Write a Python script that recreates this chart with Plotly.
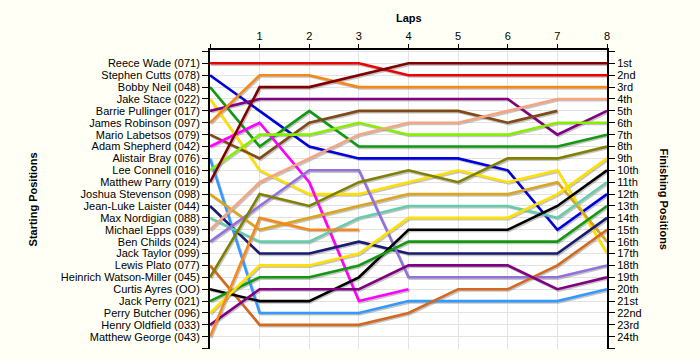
import plotly.graph_objects as go

laps = [0, 1, 2, 3, 4, 5, 6, 7, 8]
lap_labels = ["", "1", "2", "3", "4", "5", "6", "7", "8"]

drivers = [
    "Reece Wade (071)", "Stephen Cutts (078)", "Bobby Neil (048)", "Jake Stace (022)",
    "Barrie Pullinger (017)", "James Robinson (097)", "Mario Labetsos (079)",
    "Adam Shepherd (042)", "Alistair Bray (076)", "Lee Connell (016)",
    "Matthew Parry (019)", "Joshua Stevenson (098)", "Jean-Luke Laister (044)",
    "Max Nordigian (088)", "Michael Epps (039)", "Ben Childs (024)",
    "Jack Taylor (099)", "Lewis Plato (077)", "Heinrich Watson-Miller (045)",
    "Curtis Ayres (OO)", "Jack Perry (021)", "Perry Butcher (096)",
    "Henry Oldfield (033)", "Matthew George (043)",
]

finish_labels = ["1st", "2nd", "3rd", "4th", "5th", "6th", "7th", "8th", "9th", "10th",
                 "11th", "12th", "13th", "14th", "15th", "16th", "17th", "18th", "19th",
                 "20th", "21st", "22nd", "23rd", "24th"]

# position of each driver after each lap (None = not running)
p01 = [1, 1, 1, 1, 2, 2, 2, 2, 2]
p02 = [2, 5, 8, 9, 9, 9, 10, 15, 12]
p03 = [3, 8, 5, 8, 8, 8, 8, 8, 7]
p04 = [4, 10, 12, 12, 11, 10, 11, 10, 17]
p05 = [5, 4, 4, 4, 4, 4, 4, 7, 5]
p06 = [6, 2, 2, 3, 3, 3, 3, 3, 3]
p07 = [7, 9, 6, 5, 5, 5, 6, 5, None]
p08 = [8, 6, 11, 21, 20, None, None, None, None]
p09 = [9, 22, 22, 22, 21, 21, 21, 21, 20]
p10 = [10, 7, 7, 6, 7, 7, 7, 6, 6]
p11 = [11, 3, 3, 2, 1, 1, 1, 1, 1]
p12 = [12, 15, 14, 13, 12, 12, 12, 11, 16]
p13 = [13, 17, 17, 16, 17, 17, 17, 17, 14]
p14 = [14, 16, 16, 14, 13, 13, 13, 14, 11]
p15 = [15, 11, 9, 7, 6, 6, 5, 4, 4]
p16 = [16, 13, 10, 10, 19, 19, 19, 19, 18]
p17 = [None, None, None, None, None, None, None, None, None]
p18 = [18, 23, 23, 23, 22, 20, 20, 18, 15]
p19 = [19, 12, 13, 11, 10, 11, 9, 9, 8]
p20 = [20, 21, 21, 19, 15, 15, 15, 13, 10]
p21 = [21, 19, 19, 18, 16, 16, 16, 16, 13]
p22 = [22, 18, 18, 17, 14, 14, 14, 12, 9]
p23 = [23, 20, 20, 20, 18, 18, 18, 20, 19]
p24 = [24, 14, 15, 15, None, None, None, None, None]

series = [p01, p02, p03, p04, p05, p06, p07, p08, p09, p10, p11, p12,
          p13, p14, p15, p16, p17, p18, p19, p20, p21, p22, p23, p24]

colors = ["#EE0000", "#0000DD", "#129912", "#FFE000", "#800080", "#F5891A",
          "#7F4A17", "#FF00FF", "#3399FF", "#88EE00", "#800000", "#DAA520",
          "#1B1B70", "#66CDAA", "#F4A582", "#9370DB", "#888888", "#D2691E",
          "#808000", "#000000", "#129912", "#FFE000", "#800080", "#F5891A"]

fig = go.Figure()

# shadows
for ys in series:
    sx = [x + 0.025 for x in laps]
    sy = [None if v is None else v + 0.11 for v in ys]
    fig.add_trace(go.Scatter(x=sx, y=sy, mode="lines", showlegend=False,
                             hoverinfo="skip", connectgaps=False,
                             line=dict(color="rgba(110,110,110,0.4)", width=2.6)))
# lines
for name, ys, c in zip(drivers, series, colors):
    fig.add_trace(go.Scatter(x=laps, y=ys, mode="lines", name=name, showlegend=False,
                             connectgaps=False, line=dict(color=c, width=2.6)))

# dummy trace for right axis
fig.add_trace(go.Scatter(x=[None], y=[None], yaxis="y2", showlegend=False, hoverinfo="skip"))

n = len(drivers)
tv = list(range(0, n + 2))
left_text = [""] + drivers + [""]
right_text = [""] + finish_labels + [""]

yr = [25.03, -0.12]
font = dict(family="Liberation Sans, Arial, sans-serif", size=11, color="#000000")

fig.update_layout(
    width=700, height=360,
    margin=dict(l=210, r=93, t=50, b=11),
    paper_bgcolor="#FFFFF5", plot_bgcolor="#FFFFFF",
    font=font,
    showlegend=False,
    xaxis=dict(side="top", range=[0, 8], tickvals=laps, ticktext=lap_labels,
               ticks="outside", ticklen=4, tickcolor="#000", showgrid=True,
               gridcolor="#E3E3E3", gridwidth=1, showline=True, linecolor="#000",
               linewidth=2, zeroline=False, fixedrange=True),
    yaxis=dict(range=yr, tickvals=tv, ticktext=left_text, ticks="outside",
               ticklen=6, tickcolor="#000", showgrid=True, gridcolor="#E3E3E3",
               showline=True, linecolor="#000", linewidth=2, zeroline=False,
               fixedrange=True),
    yaxis2=dict(range=yr, overlaying="y", side="right", tickvals=tv,
                ticktext=right_text, ticks="outside", ticklen=6, tickcolor="#000",
                showgrid=False, showline=True, linecolor="#000", linewidth=2,
                zeroline=False, fixedrange=True),
    annotations=[
        dict(text="<b>Laps</b>", x=0.5, y=1.107, xref="paper", yref="paper",
             xanchor="center", yanchor="middle",
             showarrow=False, font=dict(size=11)),
        dict(text="<b>Starting Positions</b>", x=-0.446, y=0.5, xref="paper",
             xanchor="center", yanchor="middle",
             yref="paper", showarrow=False, textangle=-90, font=dict(size=11)),
        dict(text="<b>Finishing Positions</b>", x=1.146, y=0.5, xref="paper",
             xanchor="center", yanchor="middle",
             yref="paper", showarrow=False, textangle=90, font=dict(size=11)),
    ],
)

fig.write_html("out.html", config={"displayModeBar": False},
               post_script="document.body.style.margin='0';document.body.style.background='#FFFFF5';")
